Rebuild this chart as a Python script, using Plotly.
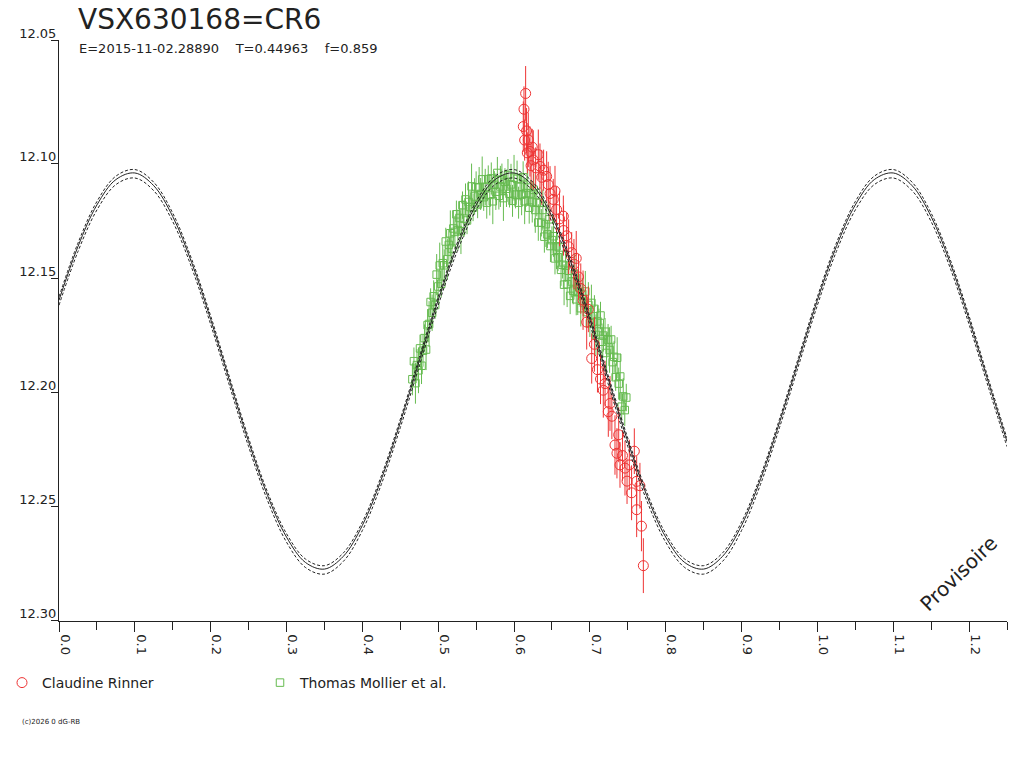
import plotly.graph_objects as go

# ---------------- data ----------------
model_phase = [0.000, 0.025, 0.050, 0.075, 0.100, 0.125, 0.150, 0.175, 0.200, 0.225,
               0.250, 0.275, 0.300, 0.325, 0.350, 0.375, 0.400, 0.425, 0.450, 0.475,
               0.500, 0.525, 0.550, 0.575, 0.600, 0.625, 0.650, 0.675, 0.700, 0.725,
               0.750, 0.775, 0.800, 0.825, 0.850, 0.875, 0.900, 0.925, 0.950, 0.975,
               1.000, 1.025, 1.050, 1.075, 1.100, 1.125, 1.150, 1.175, 1.200, 1.225,
               1.250]
model_mag = [12.1597, 12.1362, 12.1180, 12.1069, 12.1040, 12.1096, 12.1231, 12.1433, 12.1681, 12.1951,
             12.2216, 12.2452, 12.2634, 12.2745, 12.2774, 12.2718, 12.2583, 12.2381, 12.2133, 12.1863,
             12.1597, 12.1362, 12.1180, 12.1069, 12.1040, 12.1096, 12.1231, 12.1433, 12.1681, 12.1951,
             12.2216, 12.2452, 12.2634, 12.2745, 12.2774, 12.2718, 12.2583, 12.2381, 12.2133, 12.1863,
             12.1597, 12.1362, 12.1180, 12.1069, 12.1040, 12.1096, 12.1231, 12.1433, 12.1681, 12.1951,
             12.2216]
model_upper = [12.1582, 12.1347, 12.1165, 12.1054, 12.1025, 12.1081, 12.1216, 12.1418, 12.1666, 12.1936,
               12.2201, 12.2437, 12.2619, 12.2730, 12.2759, 12.2703, 12.2568, 12.2366, 12.2118, 12.1848,
               12.1582, 12.1347, 12.1165, 12.1054, 12.1025, 12.1081, 12.1216, 12.1418, 12.1666, 12.1936,
               12.2201, 12.2437, 12.2619, 12.2730, 12.2759, 12.2703, 12.2568, 12.2366, 12.2118, 12.1848,
               12.1582, 12.1347, 12.1165, 12.1054, 12.1025, 12.1081, 12.1216, 12.1418, 12.1666, 12.1936,
               12.2201]
model_lower = [12.1619, 12.1384, 12.1202, 12.1091, 12.1062, 12.1118, 12.1253, 12.1455, 12.1703, 12.1973,
               12.2238, 12.2474, 12.2656, 12.2767, 12.2796, 12.2740, 12.2605, 12.2403, 12.2155, 12.1885,
               12.1619, 12.1384, 12.1202, 12.1091, 12.1062, 12.1118, 12.1253, 12.1455, 12.1703, 12.1973,
               12.2238, 12.2474, 12.2656, 12.2767, 12.2796, 12.2740, 12.2605, 12.2403, 12.2155, 12.1885,
               12.1619, 12.1384, 12.1202, 12.1091, 12.1062, 12.1118, 12.1253, 12.1455, 12.1703, 12.1973,
               12.2238]

rinner_phase = [0.6153, 0.6131, 0.6122, 0.6140, 0.6165, 0.6188, 0.6175, 0.6210, 0.6225, 0.6254,
                0.6240, 0.6285, 0.6320, 0.6342, 0.6365, 0.6390, 0.6430, 0.6451, 0.6475, 0.6517,
                0.6540, 0.6561, 0.6600, 0.6650, 0.6653, 0.6694, 0.6720, 0.6760, 0.6790, 0.6820,
                0.6850, 0.6880, 0.6910, 0.6958, 0.6980, 0.7024, 0.7060, 0.7100, 0.7140, 0.7177,
                0.7200, 0.7243, 0.7265, 0.7290, 0.7331, 0.7357, 0.7380, 0.7397, 0.7430, 0.7463,
                0.7490, 0.7520, 0.7550, 0.7586, 0.7617, 0.7617, 0.7660, 0.7680, 0.7705]
rinner_mag = [12.0692, 12.0761, 12.0837, 12.0896, 12.0856, 12.0895, 12.0952, 12.0946, 12.1008, 12.0983,
              12.0927, 12.1018, 12.0960, 12.1011, 12.1059, 12.1028, 12.1055, 12.1091, 12.1130, 12.1156,
              12.1119, 12.1200, 12.1241, 12.1229, 12.1292, 12.1315, 12.1363, 12.1389, 12.1439, 12.1414,
              12.1495, 12.1546, 12.1597, 12.1693, 12.1637, 12.1852, 12.1790, 12.1901, 12.1942, 12.1991,
              12.1962, 12.2085, 12.2049, 12.2105, 12.2231, 12.2267, 12.2186, 12.2318, 12.2277, 12.2332,
              12.2389, 12.2318, 12.2440, 12.2258, 12.2390, 12.2514, 12.2409, 12.2586, 12.2759]
rinner_err = [0.012, 0.010, 0.011, 0.009, 0.010, 0.012, 0.009, 0.011, 0.010, 0.013,
              0.008, 0.009, 0.011, 0.010, 0.012, 0.009, 0.011, 0.010, 0.012, 0.009,
              0.011, 0.010, 0.012, 0.009, 0.011, 0.010, 0.012, 0.009, 0.011, 0.012,
              0.010, 0.011, 0.013, 0.012, 0.010, 0.011, 0.012, 0.010, 0.011, 0.012,
              0.010, 0.011, 0.012, 0.010, 0.013, 0.011, 0.012, 0.010, 0.011, 0.012,
              0.010, 0.011, 0.012, 0.010, 0.011, 0.012, 0.010, 0.011, 0.012]

mollier_phase = [0.466, 0.468, 0.470, 0.472, 0.474, 0.476, 0.478, 0.480, 0.482, 0.484,
                 0.486, 0.488, 0.490, 0.492, 0.494, 0.496, 0.498, 0.500, 0.502, 0.504,
                 0.506, 0.508, 0.510, 0.512, 0.514, 0.516, 0.518, 0.520, 0.522, 0.524,
                 0.526, 0.528, 0.530, 0.532, 0.534, 0.536, 0.538, 0.540, 0.542, 0.544,
                 0.546, 0.548, 0.550, 0.552, 0.554, 0.556, 0.558, 0.560, 0.562, 0.564,
                 0.566, 0.568, 0.570, 0.572, 0.574, 0.576, 0.578, 0.580, 0.582, 0.584,
                 0.586, 0.588, 0.590, 0.592, 0.594, 0.596, 0.598, 0.600, 0.602, 0.604,
                 0.606, 0.608, 0.610, 0.612, 0.614, 0.616, 0.618, 0.620, 0.622, 0.624,
                 0.626, 0.628, 0.630, 0.632, 0.634, 0.636, 0.638, 0.640, 0.642, 0.644,
                 0.646, 0.648, 0.650, 0.652, 0.654, 0.656, 0.658, 0.660, 0.662, 0.664,
                 0.666, 0.668, 0.670, 0.672, 0.674, 0.676, 0.678, 0.680, 0.682, 0.684,
                 0.686, 0.688, 0.690, 0.692, 0.694, 0.696, 0.698, 0.700, 0.702, 0.704,
                 0.706, 0.708, 0.710, 0.712, 0.714, 0.716, 0.718, 0.720, 0.722, 0.724,
                 0.726, 0.728, 0.730, 0.732, 0.734, 0.736, 0.738, 0.740, 0.742, 0.744,
                 0.746, 0.748]
mollier_mag = [12.1943, 12.1864, 12.1960, 12.1881, 12.1904, 12.1808, 12.1884, 12.1818, 12.1763, 12.1813,
               12.1706, 12.1701, 12.1605, 12.1652, 12.1580, 12.1618, 12.1485, 12.1537, 12.1445, 12.1525,
               12.1435, 12.1444, 12.1340, 12.1418, 12.1355, 12.1304, 12.1371, 12.1283, 12.1298, 12.1221,
               12.1290, 12.1237, 12.1295, 12.1181, 12.1240, 12.1156, 12.1248, 12.1167, 12.1189, 12.1099,
               12.1191, 12.1143, 12.1103, 12.1178, 12.1104, 12.1132, 12.1068, 12.1146, 12.1102, 12.1170,
               12.1067, 12.1136, 12.1064, 12.1164, 12.1092, 12.1122, 12.1040, 12.1140, 12.1099, 12.1069,
               12.1150, 12.1079, 12.1109, 12.1049, 12.1131, 12.1090, 12.1162, 12.1061, 12.1135, 12.1066,
               12.1170, 12.1101, 12.1135, 12.1059, 12.1164, 12.1128, 12.1104, 12.1192, 12.1130, 12.1167,
               12.1114, 12.1202, 12.1170, 12.1257, 12.1171, 12.1258, 12.1202, 12.1319, 12.1264, 12.1309,
               12.1243, 12.1360, 12.1334, 12.1317, 12.1414, 12.1361, 12.1409, 12.1366, 12.1464, 12.1442,
               12.1529, 12.1446, 12.1527, 12.1468, 12.1578, 12.1515, 12.1555, 12.1482, 12.1593, 12.1562,
               12.1541, 12.1632, 12.1570, 12.1609, 12.1559, 12.1649, 12.1618, 12.1698, 12.1609, 12.1693,
               12.1635, 12.1749, 12.1690, 12.1734, 12.1664, 12.1779, 12.1752, 12.1735, 12.1828, 12.1771,
               12.1815, 12.1769, 12.1868, 12.1845, 12.1934, 12.1849, 12.1962, 12.1931, 12.2063, 12.2018,
               12.2078, 12.2023]
mollier_err = [0.007, 0.006, 0.009, 0.007, 0.010, 0.006, 0.008, 0.007, 0.006, 0.009,
               0.007, 0.010, 0.006, 0.008, 0.007, 0.006, 0.009, 0.007, 0.010, 0.006,
               0.008, 0.007, 0.006, 0.009, 0.007, 0.010, 0.006, 0.008, 0.007, 0.006,
               0.009, 0.007, 0.010, 0.006, 0.008, 0.007, 0.006, 0.009, 0.007, 0.010,
               0.006, 0.008, 0.007, 0.006, 0.009, 0.007, 0.010, 0.006, 0.008, 0.007,
               0.006, 0.009, 0.007, 0.010, 0.006, 0.008, 0.007, 0.006, 0.009, 0.007,
               0.010, 0.006, 0.008, 0.007, 0.006, 0.009, 0.007, 0.010, 0.006, 0.008,
               0.007, 0.006, 0.009, 0.007, 0.010, 0.006, 0.008, 0.007, 0.006, 0.009,
               0.007, 0.010, 0.006, 0.008, 0.007, 0.006, 0.009, 0.007, 0.010, 0.006,
               0.008, 0.007, 0.006, 0.009, 0.007, 0.010, 0.006, 0.008, 0.007, 0.006,
               0.009, 0.007, 0.010, 0.006, 0.008, 0.007, 0.006, 0.009, 0.007, 0.010,
               0.006, 0.008, 0.007, 0.006, 0.009, 0.007, 0.010, 0.006, 0.008, 0.007,
               0.006, 0.009, 0.007, 0.010, 0.006, 0.008, 0.007, 0.006, 0.009, 0.007,
               0.010, 0.006, 0.008, 0.007, 0.006, 0.009, 0.007, 0.010, 0.006, 0.008,
               0.007, 0.006]

x_tick_vals = [0.0, 0.1, 0.2, 0.3, 0.4, 0.5, 0.6, 0.7, 0.8, 0.9, 1.0, 1.1, 1.2]
x_tick_text = ["0.0", "0.1", "0.2", "0.3", "0.4", "0.5", "0.6", "0.7", "0.8", "0.9", "1.0", "1.1", "1.2"]
y_tick_vals = [12.0458, 12.10, 12.15, 12.20, 12.25, 12.30]
y_tick_text = ["12.05", "12.10", "12.15", "12.20", "12.25", "12.30"]

star_name = "VSX630168=CR6"
subtitle = "E=2015-11-02.28890    T=0.44963    f=0.859"
name_red = "Claudine Rinner"
name_green = "Thomas Mollier et al."

# ---------------- layout helpers ----------------
W, H = 1024, 768
PL, PR, PT, PB = 59, 1007, 40, 623
FONT = "DejaVu Sans"
INK = "#222222"
RED = "#EE3333"
GREEN = "#66BB50"


def px(xp):
    return (xp - PL) / (PR - PL)


def py(yp):
    return 1 - (yp - PT) / (PB - PT)


fig = go.Figure()

fig.add_trace(go.Scatter(
    x=mollier_phase, y=mollier_mag, mode="markers", name=name_green,
    marker=dict(symbol="square-open", size=7.5, color=GREEN, line=dict(width=1, color=GREEN)),
    error_y=dict(type="data", array=mollier_err, visible=True, color=GREEN, thickness=1, width=0),
    legendrank=2,
))
fig.add_trace(go.Scatter(
    x=rinner_phase, y=rinner_mag, mode="markers", name=name_red,
    marker=dict(symbol="circle-open", size=10, color=RED, line=dict(width=1, color=RED)),
    error_y=dict(type="data", array=rinner_err, visible=True, color=RED, thickness=1, width=0),
    legendrank=1,
))
for arr, dash in [(model_upper, "3px,2px"), (model_lower, "3px,2px"), (model_mag, "solid")]:
    fig.add_trace(go.Scatter(
        x=model_phase, y=arr, mode="lines", showlegend=False, hoverinfo="skip",
        line=dict(color=INK, width=1, dash=dash, shape="spline", smoothing=1.0),
    ))

fig.update_layout(
    width=W, height=H,
    margin=dict(l=PL, r=W - PR, t=PT, b=H - PB, pad=0),
    paper_bgcolor="white", plot_bgcolor="white",
    font=dict(family=FONT, size=13, color=INK),
    showlegend=True,
    legend=dict(
        orientation="h", xref="container", yref="container",
        x=2 / W, y=1 - 683 / H, xanchor="left", yanchor="middle",
        font=dict(family=FONT, size=14, color=INK),
        entrywidth=213, entrywidthmode="pixels",
        bgcolor="rgba(0,0,0,0)", itemclick=False,
    ),
    xaxis=dict(
        range=[0, 1.25], tickmode="array", tickvals=x_tick_vals, ticktext=x_tick_text,
        tickangle=90, ticks="outside", ticklen=10, tickcolor=INK, tickwidth=1,
        showline=True, linecolor=INK, linewidth=1, showgrid=False, zeroline=False,
        ticklabelshift=6, ticklabelstandoff=0,
        minor=dict(dtick=0.05, tick0=0.05, ticks="outside", ticklen=8, tickcolor=INK, tickwidth=1, showgrid=False),
        tickfont=dict(family=FONT, size=13, color=INK),
    ),
    yaxis=dict(
        range=[12.30, 12.0458], tickmode="array", tickvals=y_tick_vals, ticktext=y_tick_text,
        ticks="outside", ticklen=7, tickcolor=INK, tickwidth=1,
        showline=True, linecolor=INK, linewidth=1, showgrid=False, zeroline=False,
        ticklabelshift=7, ticklabelstandoff=-8,
        tickfont=dict(family=FONT, size=13, color=INK),
    ),
    annotations=[
        dict(text=star_name, xref="paper", yref="paper", x=px(76), y=py(19), xanchor="left", yanchor="middle",
             showarrow=False, font=dict(family=FONT, size=28, color=INK)),
        dict(text=subtitle.replace(" ", "&nbsp;"), xref="paper", yref="paper", x=px(77), y=py(49),
             xanchor="left", yanchor="middle", showarrow=False, font=dict(family=FONT, size=13, color=INK)),
        dict(text="Provisoire", xref="paper", yref="paper", x=px(958), y=py(576), xanchor="center",
             yanchor="middle", textangle=-44, showarrow=False, font=dict(family=FONT, size=20, color=INK)),
        dict(text="(c)2026 0 dG-RB", xref="paper", yref="paper", x=px(20), y=py(725), xanchor="left",
             yanchor="middle", showarrow=False, font=dict(family=FONT, size=7, color=INK)),
    ],
)

fig.write_html("out.html", config={"displayModeBar": False},
               post_script="document.body.style.margin='0px';")
